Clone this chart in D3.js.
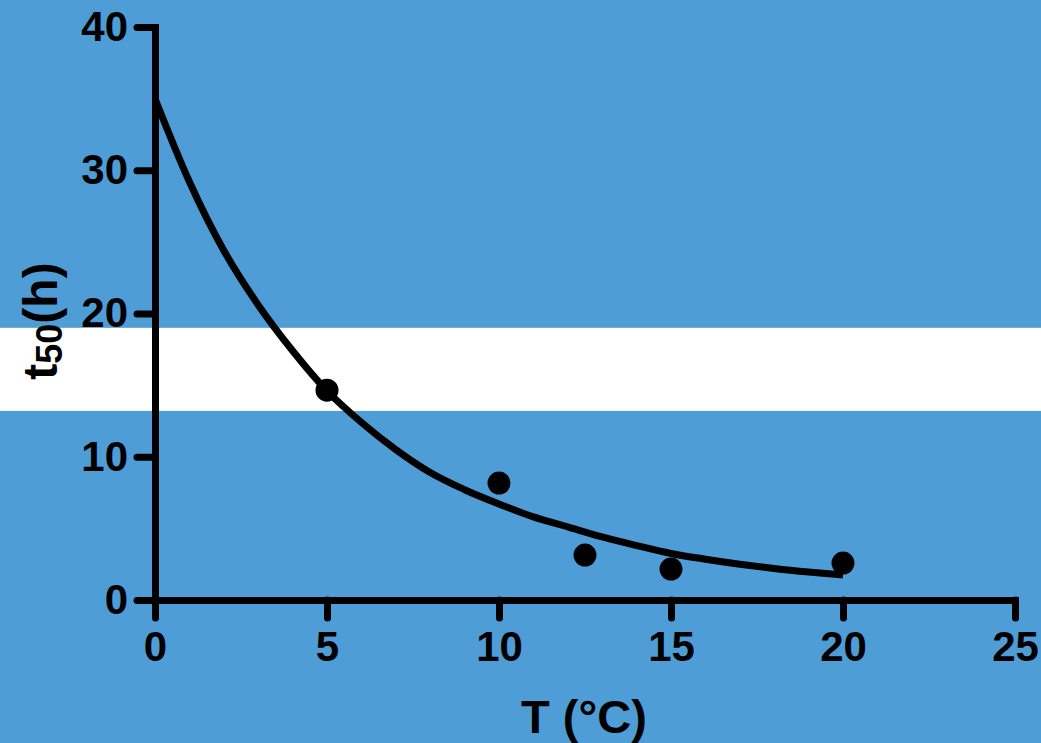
<!DOCTYPE html>
<html>
<head>
<meta charset="utf-8">
<script src="https://cdn.jsdelivr.net/npm/d3@7"></script>
<style>
  html, body { margin: 0; padding: 0; background: #4f9dd7; }
  svg { display: block; }
  text { font-family: "Liberation Sans", Arial, sans-serif; font-weight: bold; fill: #000; }
</style>
</head>
<body>
<svg id="chart" width="1041" height="743"></svg>
<script>
// measured points: temperature (°C) vs t50 (h)
const tempC = [5, 10, 12.5, 15, 20];
const t50h  = [14.65, 8.16, 3.14, 2.16, 2.58];

// fitted curve at each degree
const fitT = [0, 1, 2, 3, 4, 5, 6, 7, 8, 9, 10, 11, 12, 13, 14, 15, 16, 17, 18, 19, 20];
const fitY = [35.0, 29.2, 24.4, 20.6, 17.4, 14.6, 12.4, 10.5, 8.9, 7.7, 6.7,
              5.8, 5.1, 4.4, 3.8, 3.25, 2.85, 2.5, 2.2, 1.95, 1.74];

const xTicks = [0, 5, 10, 15, 20, 25];
const yTicks = [0, 10, 20, 30, 40];

// white stripe behind the plot (in t50 units)
const band = [13.2, 19.0];

(function () {
    'use strict';

    const W = 1041, H = 743;
    const LEFT = 155, RIGHT = 1015, TOP = 27, BOTTOM = 600;

    const svg = d3.select('#chart');

    const x = d3.scaleLinear().domain([0, 25]).range([LEFT, RIGHT]);
    const y = d3.scaleLinear().domain([0, 40]).range([BOTTOM, TOP]);

    // background + white band
    svg.append('rect').attr('width', W).attr('height', H).attr('fill', '#4f9dd7');
    svg.append('rect')
        .attr('x', 0).attr('width', W)
        .attr('y', y(band[1]))
        .attr('height', y(band[0]) - y(band[1]))
        .attr('fill', '#ffffff');

    // ── Axes ────────────────────────────────────────────
    const xAxis = svg.append('g')
        .attr('transform', `translate(0,${BOTTOM})`)
        .call(d3.axisBottom(x).tickValues(xTicks).tickSize(18).tickSizeOuter(0).tickPadding(13));

    const yAxis = svg.append('g')
        .attr('transform', `translate(${LEFT},0)`)
        .call(d3.axisLeft(y).tickValues(yTicks).tickSize(18).tickSizeOuter(0).tickPadding(9));

    [xAxis, yAxis].forEach(a => {
        a.selectAll('path, line')
            .attr('stroke', '#000')
            .attr('stroke-width', 7)
            .attr('stroke-linecap', 'round');
        a.select('.domain').attr('stroke-linecap', 'square');
        a.selectAll('text')
            .attr('fill', '#000')
            .style('font-size', '42px')
            .style('font-family', '"Liberation Sans", Arial, sans-serif')
            .style('font-weight', 'bold');
    });

    // ── Fit curve ──────────────────────────────────────
    svg.append('path')
        .datum(fitT.map((t, i) => [t, fitY[i]]))
        .attr('fill', 'none')
        .attr('stroke', '#000')
        .attr('stroke-width', 7)
        .attr('stroke-linejoin', 'round')
        .attr('d', d3.line().x(d => x(d[0])).y(d => y(d[1])).curve(d3.curveMonotoneX));

    // ── Points ─────────────────────────────────────────
    svg.selectAll('.pt')
        .data(tempC.map((t, i) => [t, t50h[i]]))
        .join('circle')
        .attr('class', 'pt')
        .attr('cx', d => x(d[0]))
        .attr('cy', d => y(d[1]))
        .attr('r', 11.5)
        .attr('fill', '#000');

    // ── Titles ─────────────────────────────────────────
    svg.append('text')
        .attr('x', 584)
        .attr('y', 733)
        .attr('text-anchor', 'middle')
        .style('font-size', '47px')
        .text('T (°C)');

    const yl = svg.append('text')
        .attr('transform', 'translate(57,321) rotate(-90)')
        .attr('text-anchor', 'middle')
        .style('font-size', '48px');
    yl.append('tspan').text('t');
    yl.append('tspan').attr('dy', 5).style('font-size', '36px').text('50');
    yl.append('tspan').attr('dy', -5).text('(h)');
})();
</script>
</body>
</html>
